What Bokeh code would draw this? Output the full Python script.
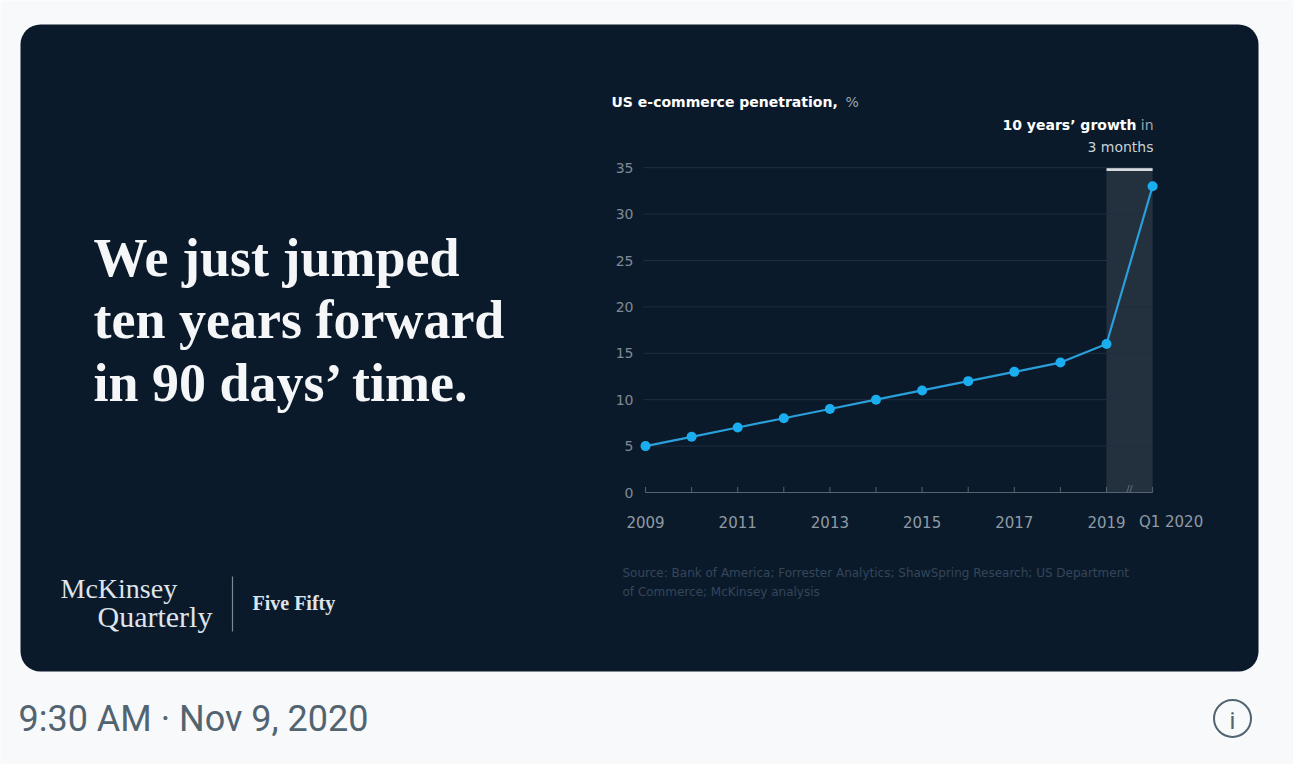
from bokeh.plotting import figure
from bokeh.models import Range1d
from bokeh.embed import file_html
from bokeh.resources import INLINE
from bokeh.core.properties import value

# ---------------- data ----------------
periods = ["2009", "2010", "2011", "2012", "2013", "2014", "2015", "2016",
           "2017", "2018", "2019", "Q1 2020"]
penetration = [5, 6, 7, 8, 9, 10, 11, 12, 13, 14, 16, 33]
y_ticks = [0, 5, 10, 15, 20, 25, 30, 35]
x_tick_labels = ["2009", "2011", "2013", "2015", "2017", "2019", "Q1 2020"]
highlight_period = ["2019", "Q1 2020"]

headline = ["We just jumped", "ten years forward", "in 90 days\u2019 time."]
source_lines = ["Source: Bank of America; Forrester Analytics; ShawSpring Research; US Department",
                "of Commerce; McKinsey analysis"]

# ---------------- layout constants ----------------
W, H = 1293, 764
X0, DX = 645.0, 46.1      # pixel of first period, pixels per period
Y0, DY = 492.0, 9.28      # pixel of value 0, pixels per unit

CARD = "#0b1a2a"
SANS = "DejaVu Sans"
SERIF = "Liberation Serif"

p = figure(width=W, height=H, output_backend="svg", toolbar_location=None,
           x_range=Range1d(0, W), y_range=Range1d(H, 0),
           x_axis_location=None, y_axis_location=None, min_border=0)
p.outline_line_color = None
p.grid.visible = False
p.background_fill_color = "#f7f9fa"
p.border_fill_color = "#f7f9fa"

p.extra_x_ranges = {"idx": Range1d(-X0 / DX, (W - X0) / DX)}
p.extra_y_ranges = {"val": Range1d((Y0 - H) / DY, Y0 / DY)}

# card
p.quad(left=[20], right=[1258], top=[24], bottom=[671], fill_color=CARD,
       line_color=None, border_radius=20)

# headline
for i, line in enumerate(headline):
    p.text(x=[93], y=[257 + i * 62.5], text=[line], text_font=value(SERIF),
           text_font_style="bold", text_font_size="54px", text_color="#f4f6f8",
           text_baseline="middle", text_align="left")

# logo
p.text(x=[60], y=[588], text=["McKinsey"], text_font=value(SERIF), text_font_size="28px",
       text_color="#dfe4ea", text_baseline="middle")
p.text(x=[97], y=[616], text=["Quarterly"], text_font=value(SERIF), text_font_size="30px",
       text_color="#dfe4ea", text_baseline="middle")
p.segment(x0=[232], x1=[232], y0=[576], y1=[631], line_color="#7d8894", line_width=1.2)
p.text(x=[252], y=[602], text=["Five Fifty"], text_font=value(SERIF), text_font_style="bold",
       text_font_size="20px", text_color="#dfe4ea", text_baseline="middle")

# chart title
p.text(x=[611], y=[101], text=["US e-commerce penetration,"], text_font=value(SANS),
       text_font_style="bold", text_font_size="14px", text_color="#ffffff",
       text_baseline="middle")
p.text(x=[845], y=[101], text=["%"], text_font=value(SANS), text_font_size="14px",
       text_color="#9aa5b0", text_baseline="middle")

# annotation
p.text(x=[1153], y=[124], text=["in"], text_font=value(SANS), text_font_size="14px",
       text_color="#9aa5b0", text_baseline="middle", text_align="right")
p.text(x=[1136], y=[124], text=["10 years\u2019 growth"], text_font=value(SANS),
       text_font_style="bold", text_font_size="14px", text_color="#ffffff",
       text_baseline="middle", text_align="right")
p.text(x=[1153], y=[146], text=["3 months"], text_font=value(SANS), text_font_size="14px",
       text_color="#c9d0d6", text_baseline="middle", text_align="right")

# ---- data-space chart ----
hi0 = periods.index(highlight_period[0])
hi1 = periods.index(highlight_period[1])
top_val = y_ticks[-1] - 0.2

# shaded highlight
p.quad(left=[hi0], right=[hi1], bottom=[0], top=[top_val], fill_color="#ffffff",
       fill_alpha=0.1, line_color=None, x_range_name="idx", y_range_name="val")
p.segment(x0=[hi0], x1=[hi1], y0=[top_val], y1=[top_val], line_color="#d5d9dd",
          line_width=3, x_range_name="idx", y_range_name="val")

# gridlines
grid_vals = [v for v in y_ticks if v > 0]
p.segment(x0=[-0.05] * len(grid_vals), x1=[len(periods) - 1] * len(grid_vals),
          y0=grid_vals, y1=grid_vals, line_color="#1e2f40", line_width=1,
          x_range_name="idx", y_range_name="val")

# axis baseline and ticks
idxs = list(range(len(periods)))
p.segment(x0=[0], x1=[len(periods) - 1], y0=[0], y1=[0], line_color="#55626f",
          line_width=1, x_range_name="idx", y_range_name="val")
p.segment(x0=idxs, x1=idxs, y0=[0] * len(idxs), y1=[0.6] * len(idxs),
          line_color="#55626f", line_width=1, x_range_name="idx", y_range_name="val")
p.text(x=[(hi0 + hi1) / 2 + 0.0], y=[0.35], text=["//"], text_font=value(SANS),
       text_font_size="9px", text_color="#6f7c88", text_align="center",
       text_baseline="middle", x_range_name="idx", y_range_name="val")

# y tick labels
p.text(x=[-0.26] * len(y_ticks), y=y_ticks, text=[str(v) for v in y_ticks],
       text_font=value(SANS), text_font_size="14px", text_color="#7f8a95",
       text_align="right", text_baseline="middle", x_range_name="idx", y_range_name="val")

# x tick labels
xl_pos = [periods.index(l) for l in x_tick_labels]
xl_pos = [x + (0.4 if l.startswith("Q") else 0) for x, l in zip(xl_pos, x_tick_labels)]
p.text(x=xl_pos, y=[-3.2] * len(xl_pos), text=x_tick_labels, text_font=value(SANS),
       text_font_size="15px", text_color="#8f9aa5", text_align="center",
       text_baseline="middle", x_range_name="idx", y_range_name="val")

# series
p.line(x=idxs, y=penetration, line_color="#2a9fda", line_width=2.2,
       x_range_name="idx", y_range_name="val")
p.scatter(x=idxs, y=penetration, size=10, fill_color="#1aaef0", line_color=None,
          x_range_name="idx", y_range_name="val")

# source
for i, s in enumerate(source_lines):
    p.text(x=[622], y=[572 + i * 19], text=[s], text_font=value(SANS), text_font_size="12px",
           text_color="#34465b", text_baseline="middle")

# footer (tweet timestamp + info icon)
p.text(x=[18], y=[718], text=["9:30 AM \u00b7 Nov 9, 2020"], text_font=value("Roboto"),
       text_font_size="36px", text_color="#536471", text_baseline="middle")
p.scatter(x=[1232], y=[718], size=37, fill_color=None, line_color="#536471", line_width=2)
p.text(x=[1232], y=[720], text=["i"], text_font=value("Roboto"), text_font_size="24px",
       text_color="#536471", text_align="center", text_baseline="middle")

open("out.html", "w").write(file_html(p, INLINE))
